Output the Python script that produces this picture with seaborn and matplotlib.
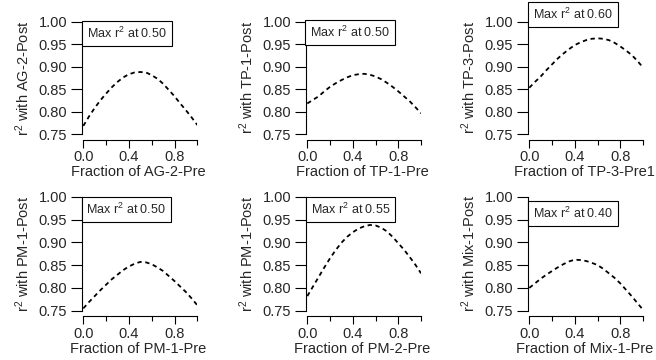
import matplotlib
matplotlib.use("Agg")
import matplotlib.pyplot as plt
from matplotlib.ticker import FixedLocator
import seaborn as sns
import pandas as pd

# Mixing fraction of the "Pre" sample
frac = [0.00, 0.05, 0.10, 0.15, 0.20, 0.25, 0.30, 0.35, 0.40, 0.45, 0.50,
        0.55, 0.60, 0.65, 0.70, 0.75, 0.80, 0.85, 0.90, 0.95, 1.00]

# r^2 of the mixed spectrum against the "Post" sample
r2_ag2 = [0.768, 0.789, 0.808, 0.825, 0.840, 0.854, 0.866, 0.876, 0.883, 0.887, 0.888,
          0.887, 0.881, 0.873, 0.862, 0.848, 0.834, 0.818, 0.803, 0.787, 0.770]
r2_tp1 = [0.818, 0.826, 0.834, 0.845, 0.855, 0.863, 0.870, 0.876, 0.881, 0.883, 0.884,
          0.882, 0.878, 0.872, 0.864, 0.855, 0.845, 0.834, 0.823, 0.810, 0.796]
r2_tp3 = [0.853, 0.866, 0.878, 0.892, 0.905, 0.918, 0.929, 0.939, 0.948, 0.954, 0.959,
          0.962, 0.963, 0.962, 0.959, 0.953, 0.945, 0.936, 0.926, 0.913, 0.898]
r2_pm1 = [0.755, 0.769, 0.782, 0.795, 0.807, 0.819, 0.829, 0.839, 0.847, 0.853, 0.857,
          0.856, 0.852, 0.845, 0.837, 0.826, 0.815, 0.803, 0.791, 0.777, 0.762]
r2_pm2 = [0.782, 0.803, 0.824, 0.845, 0.865, 0.883, 0.899, 0.912, 0.922, 0.930, 0.935,
          0.938, 0.937, 0.932, 0.924, 0.912, 0.898, 0.884, 0.868, 0.851, 0.832]
r2_mix1 = [0.800, 0.810, 0.820, 0.829, 0.837, 0.845, 0.852, 0.858, 0.862, 0.861, 0.859,
           0.855, 0.850, 0.842, 0.832, 0.822, 0.810, 0.796, 0.782, 0.767, 0.752]

pre_names = ["AG-2-Pre", "TP-1-Pre", "TP-3-Pre1", "PM-1-Pre", "PM-2-Pre", "Mix-1-Pre"]
post_names = ["AG-2-Post", "TP-1-Post", "TP-3-Post", "PM-1-Post", "PM-1-Post", "Mix-1-Post"]
max_at = [0.50, 0.50, 0.60, 0.50, 0.55, 0.40]
series = [r2_ag2, r2_tp1, r2_tp3, r2_pm1, r2_pm2, r2_mix1]

x_ticks = [0.0, 0.4, 0.8]
x_minor = [0.2, 0.6, 1.0]
y_ticks = [0.75, 0.80, 0.85, 0.90, 0.95, 1.00]

sns.set_style("white")
plt.rcParams["font.family"] = ["Liberation Sans", "DejaVu Sans"]
plt.rcParams["mathtext.fontset"] = "custom"
plt.rcParams["mathtext.rm"] = "Liberation Sans"
plt.rcParams["mathtext.it"] = "Liberation Sans:italic"
plt.rcParams["mathtext.default"] = "regular"

W, H = 656, 360
fig = plt.figure(figsize=(W / 100, H / 100), dpi=100)

# axes boxes in pixels: (x of 0.0, x of 1.0, y of 1.00, y of 0.75)
boxes = [(83.3, 197.3, 21.7, 134.0), (307.3, 421.0, 21.7, 134.0), (529.3, 643.0, 21.7, 134.0),
         (83.3, 197.3, 196.7, 310.7), (307.3, 421.0, 196.7, 310.7), (529.3, 643.0, 196.7, 310.7)]
# top-left corner of the "Max r^2" box in pixels
note_pos = [(83.0, 21.0), (306.0, 20.0), (529.0, 2.0), (82.5, 197.0), (307.0, 197.0), (529.0, 201.0)]

FS = 10.5
for i in range(6):
    x0, x1, yt, yb = boxes[i]
    ax = fig.add_axes([x0 / W, 1 - yb / H, (x1 - x0) / W, (yb - yt) / H])
    ax.set_facecolor("none")
    df = pd.DataFrame({"frac": frac, "r2": series[i]})
    sns.lineplot(data=df, x="frac", y="r2", ax=ax, color="black", lw=1.3,
                 linestyle=(0, (2.4, 2.0)))
    ax.set_xlim(0, 1)
    ax.set_ylim(0.75, 1.0)
    ax.xaxis.set_major_locator(FixedLocator(x_ticks))
    ax.xaxis.set_minor_locator(FixedLocator(x_minor))
    ax.set_xticklabels([f"{t:.1f}" for t in x_ticks])
    ax.set_yticks(y_ticks)
    ax.set_yticklabels([f"{t:.2f}" for t in y_ticks])
    for s in ["top", "right"]:
        ax.spines[s].set_visible(False)
    for s in ["left", "bottom"]:
        ax.spines[s].set_linewidth(0.8)
        ax.spines[s].set_color("black")
    ax.spines["bottom"].set_position(("outward", 4))
    ax.spines["left"].set_position(("outward", 1))
    ax.tick_params(axis="y", which="major", direction="out", length=8, width=0.8,
                   color="black", labelsize=FS, pad=2.5, left=True)
    ax.tick_params(axis="x", which="major", direction="out", length=6, width=0.8,
                   color="black", labelsize=FS, pad=1.5, bottom=True)
    ax.tick_params(axis="x", which="minor", direction="out", length=3.5, width=0.8,
                   color="black", bottom=True)
    ax.set_xlabel(f"Fraction of {pre_names[i]}", fontsize=FS, labelpad=1)
    ax.xaxis.label.set_x(0.5 - 2.0 / (x1 - x0))
    ax.set_ylabel(f"$r^2$ with {post_names[i]}", fontsize=FS, labelpad=5)

    nx, ny = note_pos[i]
    fig.text(nx / W + 0.006, 1 - ny / H - 0.013, f"Max $r^2$ at {max_at[i]:.2f}",
             fontsize=9, ha="left", va="top",
             bbox=dict(boxstyle="square,pad=0.38", fc="white", ec="black", lw=0.8))

fig.savefig("out.png", dpi=100)
